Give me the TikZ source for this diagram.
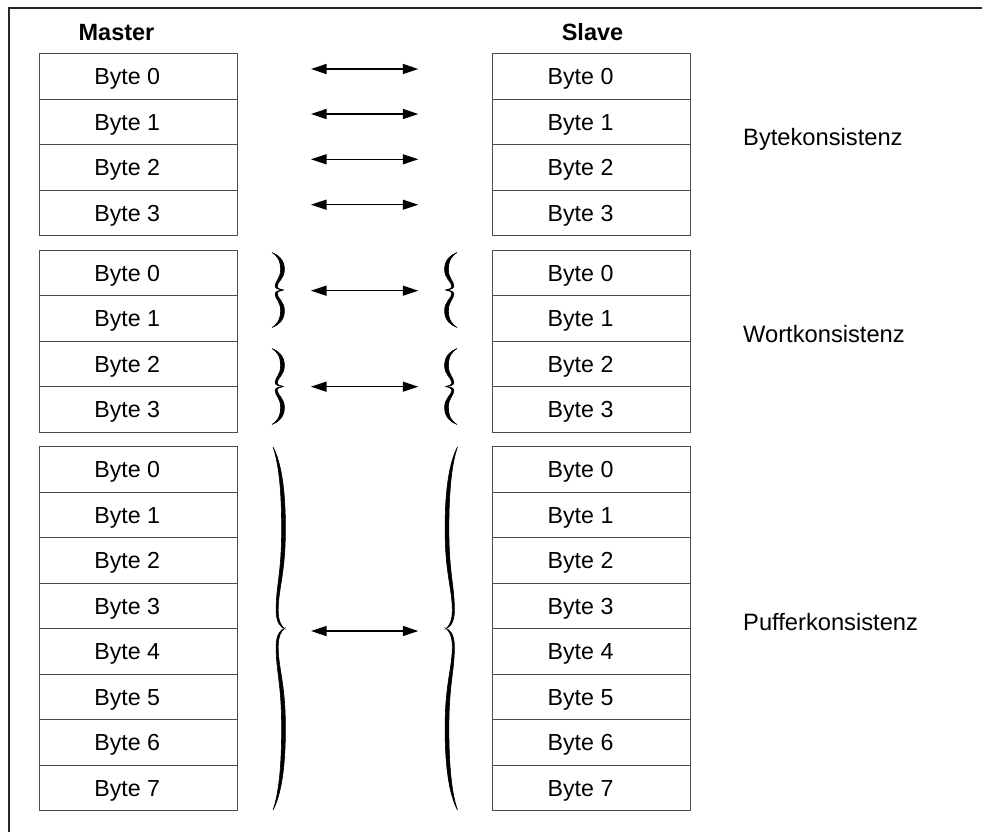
\documentclass[tikz,border=0pt]{standalone}
\usepackage{fontspec}
\setmainfont{Liberation Sans}
\usetikzlibrary{arrows.meta}
\tikzset{
  cbrace/.pic={
    \path[bracefill]
      (0,0) .. controls (0.5,0.06) and (1.08,0.18) .. (1.08,0.45)
            .. controls (1.08,0.7) and (0.45,0.78) .. (0.45,0.9)
            .. controls (0.45,0.96) and (0.75,0.99) .. (1,1)
            .. controls (0.7,0.995) and (0.27,0.97) .. (0.27,0.9)
            .. controls (0.27,0.76) and (0.75,0.7) .. (0.75,0.45)
            .. controls (0.75,0.2) and (0.4,0.07) .. (0,0) -- cycle;
    \path[bracefill]
      (0,2) .. controls (0.5,1.94) and (1.08,1.82) .. (1.08,1.55)
            .. controls (1.08,1.3) and (0.45,1.22) .. (0.45,1.1)
            .. controls (0.45,1.04) and (0.75,1.01) .. (1,1)
            .. controls (0.7,1.005) and (0.27,1.03) .. (0.27,1.1)
            .. controls (0.27,1.24) and (0.75,1.3) .. (0.75,1.55)
            .. controls (0.75,1.8) and (0.4,1.93) .. (0,2) -- cycle;
  }
}
\begin{document}
\begin{tikzpicture}[x=1pt,y=-1pt,
  cell/.style={draw=black!70, line width=1pt, minimum width=197.5pt, minimum height=45.5pt, inner sep=0pt, anchor=north west},
  celltext/.style={font=\fontsize{23.2}{27}\selectfont, text height=16.6pt, text depth=0pt, inner sep=0pt, xshift=-11pt},
  head/.style={font=\bfseries\fontsize{23.5}{28}\selectfont, text height=16.8pt, text depth=0pt, inner sep=0pt},
  lbl/.style={font=\fontsize{23.7}{28}\selectfont, anchor=base west, inner sep=0pt},
  dbl/.style={{Triangle[length=15.5pt,width=10pt]}-{Triangle[length=15.5pt,width=10pt]}, line width=1.3pt},
  frame/.style={line width=1.2pt, draw=black!85},
  bracefill/.style={fill=black, draw=black, line width=0.6pt}
]
\useasboundingbox (0,0) rectangle (982,831);
% frame
\coordinate (ftl) at (9,8);
\coordinate (ftr) at (995,8);
\coordinate (fbl) at (9,845);
\draw[frame] (ftr) -- (ftl) -- (fbl);

% headers
\node[head] (master) at (116.5,32) {Master};
\node[head] (slave) at (592.5,32) {Slave};

% group 1
\foreach \i in {0,...,3} {
  \node[cell, label={[celltext]center:Byte \i}] (ma\i) at (39,{53.3+45.5*\i}) {};
  \node[cell, label={[celltext]center:Byte \i}] (sa\i) at (492.3,{53.3+45.5*\i}) {};
}
% group 2
\foreach \i in {0,...,3} {
  \node[cell, label={[celltext]center:Byte \i}] (mb\i) at (39,{249.5+45.5*\i}) {};
  \node[cell, label={[celltext]center:Byte \i}] (sb\i) at (492.3,{249.5+45.5*\i}) {};
}
% group 3
\foreach \i in {0,...,7} {
  \node[cell, label={[celltext]center:Byte \i}] (mc\i) at (39,{446.2+45.5*\i}) {};
  \node[cell, label={[celltext]center:Byte \i}] (sc\i) at (492.3,{446.2+45.5*\i}) {};
}

% labels
\node[lbl] (bk) at (743,145) {Bytekonsistenz};
\node[lbl] (wk) at (743,342) {Wortkonsistenz};
\node[lbl] (pk) at (743,630) {Pufferkonsistenz};

% arrows
\foreach \n/\y in {1/69,2/114,3/159.3,4/204.7,5/290.7,6/386.7,7/631} {
  \coordinate (l\n) at (311,\y);
  \coordinate (r\n) at (418.3,\y);
  \draw[dbl] (l\n) -- (r\n);
}

% braces (word consistency)
\pic[xscale=11.5, yscale=37.5] at (272,252.5) {cbrace};
\pic[xscale=11.5, yscale=38] at (272,348.5) {cbrace};
\pic[xscale=-11.5, yscale=37.5] at (457,252.5) {cbrace};
\pic[xscale=-11.5, yscale=38] at (457,348.5) {cbrace};
% braces (buffer consistency)
\pic[xscale=11.5, yscale=181.5] at (273,447) {cbrace};
\pic[xscale=-11.5, yscale=181.5] at (457.5,447) {cbrace};
\end{tikzpicture}
\end{document}
